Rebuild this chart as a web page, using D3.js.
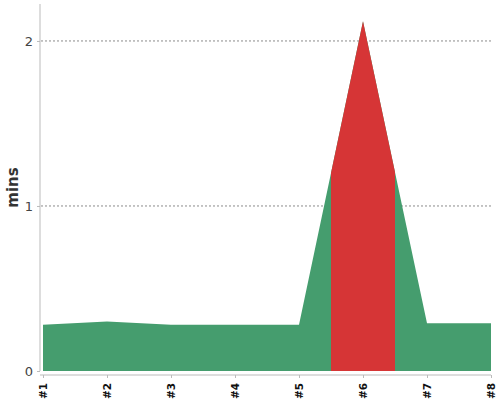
<!DOCTYPE html>
<html lang="en">
<head>
    <meta charset="UTF-8">
    <style>
        body { margin: 0; background: #fff; }
        svg text { font-family: "DejaVu Sans", sans-serif; }
        .axis path, .axis line { stroke: #bbb; }
        .axis--y text { fill: #444; font-size: 13px; font-family: "DejaVu Sans", sans-serif; }
        .axis--x text { fill: #111; font-size: 10.5px; font-weight: bold; font-family: "DejaVu Sans", sans-serif; }
        .grid line { stroke: #8a8a8a; stroke-dasharray: 2,2; }
    </style>
</head>
<body>
    <svg width="500" height="400"></svg>
    <script src="https://cdn.jsdelivr.net/npm/d3@7"></script>
    <script>
        // runs, in minutes
        var runs = [1, 2, 3, 4, 5, 6, 7, 8];
        var runLabels = ["#1", "#2", "#3", "#4", "#5", "#6", "#7", "#8"];
        var mins = [0.28, 0.30, 0.28, 0.28, 0.28, 2.12, 0.29, 0.29];
        var highlight = [5.5, 6.5];
        var yTicks = [0, 1, 2];

        var svg = d3.select("svg"),
                plotLeft = 43, plotRight = 491, plotTop = 4, plotBottom = 371;

        var x = d3.scaleLinear().domain([1, 8]).range([plotLeft, plotRight]),
                y = d3.scaleLinear().domain([0, 2.224]).range([plotBottom, plotTop]);

        var data = runs.map(function(r, i) { return {run: r, v: mins[i]}; });

        var area = d3.area()
                .x(function(d) { return x(d.run); })
                .y0(y(0))
                .y1(function(d) { return y(d.v); });

        // gridlines
        svg.append("g")
                .attr("class", "grid")
                .selectAll("line")
                .data(yTicks.filter(function(t) { return t > 0; }))
                .enter().append("line")
                .attr("x1", 41).attr("x2", plotRight)
                .attr("y1", function(d) { return y(d); })
                .attr("y2", function(d) { return y(d); });

        svg.append("defs").append("clipPath")
                .attr("id", "hl")
                .append("rect")
                .attr("x", x(highlight[0]))
                .attr("width", x(highlight[1]) - x(highlight[0]))
                .attr("y", 0)
                .attr("height", 400);

        svg.append("path")
                .datum(data)
                .attr("fill", "#459d6e")
                .attr("d", area);

        svg.append("path")
                .datum(data)
                .attr("fill", "#d63536")
                .attr("clip-path", "url(#hl)")
                .attr("d", area);

        // y axis
        svg.append("g")
                .attr("class", "axis axis--y")
                .attr("transform", "translate(40,0)")
                .call(d3.axisLeft(y).tickValues(yTicks).tickSize(3).tickSizeOuter(0).tickPadding(4)
                        .tickFormat(d3.format("d")))
                .select(".domain").attr("d", "M0," + plotBottom + "V" + plotTop);

        // x axis
        var gx = svg.append("g")
                .attr("class", "axis axis--x")
                .attr("transform", "translate(0,375)")
                .call(d3.axisBottom(x).tickValues(runs).tickSize(3).tickSizeOuter(0)
                        .tickFormat(function(d, i) { return runLabels[i]; }));
        gx.select(".domain").attr("d", "M40,0H" + plotRight);
        gx.selectAll("text")
                .attr("transform", "rotate(-90)")
                .attr("x", -8)
                .attr("y", 0)
                .attr("dy", "0.35em")
                .style("text-anchor", "end");

        svg.append("text")
                .attr("transform", "translate(13," + ((plotTop + plotBottom) / 2) + ") rotate(-90)")
                .attr("text-anchor", "middle")
                .attr("dy", "0.35em")
                .style("font-size", "15px")
                .style("font-weight", "bold")
                .style("fill", "#333")
                .text("mins");
    </script>
</body>
</html>
